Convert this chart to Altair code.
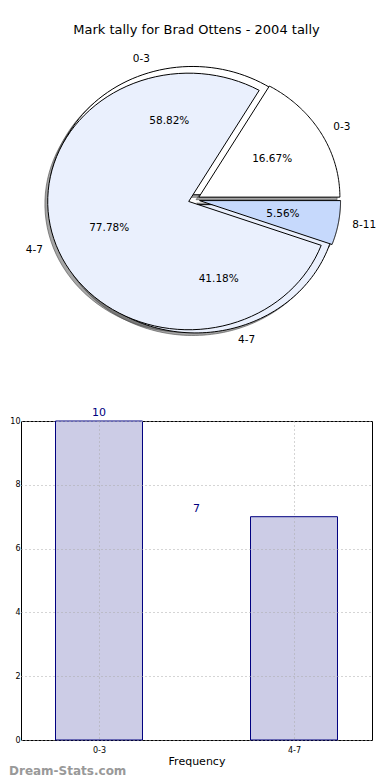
import json
import altair as alt
import pandas as pd

# ---------------- data ----------------
pie1_labels = ["0-3", "4-7"]
pie1_values = [10, 7]
pie1_colors = ["#ffffff", "#eaf0fd"]

pie2_labels = ["0-3", "4-7", "8-11"]
pie2_values = [3, 14, 1]
pie2_colors = ["#ffffff", "#eaf0fd", "#c6d9fc"]

bar_labels = ["0-3", "4-7"]
bar_values = [10, 7]
bar_text_pos = [0, 0.5]

TITLE = "Mark tally for Brad Ottens - 2004 tally"
FONT = "DejaVu Sans"

EXPLODE = 0.04
N = 90

slices = pd.DataFrame({
    "pie": [1] * len(pie1_labels) + [2] * len(pie2_labels),
    "ord": list(range(len(pie1_labels))) + list(range(len(pie2_labels))),
    "label": pie1_labels + pie2_labels,
    "value": pie1_values + pie2_values,
    "col": pie1_colors + pie2_colors,
})

base = (
    alt.Chart(slices)
    .transform_joinaggregate(total="sum(value)", groupby=["pie"])
    .transform_window(cum="sum(value)", sort=[alt.SortField("ord")],
                      groupby=["pie"], frame=[None, 0])
    .transform_calculate(a0="2*PI*(datum.cum - datum.value)/datum.total")
    .transform_calculate(a1="2*PI*datum.cum/datum.total")
    .transform_calculate(mid="(datum.a0 + datum.a1)/2")
    .transform_calculate(pct="format(100*datum.value/datum.total, '.2f') + '%'")
    .transform_calculate(id="datum.pie + '-' + datum.ord")
    .transform_calculate(cx=f"{EXPLODE}*cos(datum.mid)")
    .transform_calculate(cy=f"{EXPLODE}*sin(datum.mid)")
)

XS = alt.Scale(domain=[-1.2270, 1.2624], nice=False, zero=False)
YS = alt.Scale(domain=[-1.3196, 1.1746], nice=False, zero=False)

wedges = (
    base.transform_calculate(steps=f"sequence(0, {N + 2})")
    .transform_flatten(["steps"])
    .transform_calculate(ang=f"datum.a0 + (datum.a1 - datum.a0)*(datum.steps - 1)/{N}")
    .transform_calculate(px="datum.cx + (datum.steps == 0 ? 0 : cos(datum.ang))")
    .transform_calculate(py="datum.cy + (datum.steps == 0 ? 0 : sin(datum.ang))")
)

shadow = (
    wedges.transform_calculate(sx="datum.px - 0.02")
    .transform_calculate(sy="datum.py - 0.02")
    .mark_line(interpolate="linear-closed", fill="#4d4d4d", fillOpacity=0.5,
               stroke="#4d4d4d", strokeOpacity=0.6, strokeWidth=1)
    .encode(x=alt.X("sx:Q", scale=XS, axis=None),
            y=alt.Y("sy:Q", scale=YS, axis=None),
            order="steps:Q", detail="id:N")
)


def pie_layer(p):
    return (
        wedges.transform_filter(f"datum.pie == {p}")
        .mark_line(interpolate="linear-closed", stroke="black", strokeWidth=1)
        .encode(x=alt.X("px:Q", scale=XS, axis=None),
                y=alt.Y("py:Q", scale=YS, axis=None),
                order="steps:Q", detail="id:N",
                fill=alt.Fill("col:N", scale=None))
    )


labels = (
    base.transform_calculate(lx="datum.cx + 1.1*cos(datum.mid)")
    .transform_calculate(ly="datum.cy + 1.1*sin(datum.mid)")
)
lab_left = labels.transform_filter("datum.lx > 0").mark_text(
    align="left", baseline="middle", fontSize=10.5, font=FONT, color="black"
).encode(x=alt.X("lx:Q", scale=XS, axis=None), y=alt.Y("ly:Q", scale=YS, axis=None), text="label:N")
lab_right = labels.transform_filter("datum.lx <= 0").mark_text(
    align="right", baseline="middle", fontSize=10.5, font=FONT, color="black"
).encode(x=alt.X("lx:Q", scale=XS, axis=None), y=alt.Y("ly:Q", scale=YS, axis=None), text="label:N")

pcts = (
    base.transform_calculate(tx="datum.cx + 0.6*cos(datum.mid)")
    .transform_calculate(ty="datum.cy + 0.6*sin(datum.mid)")
    .mark_text(align="center", baseline="middle", fontSize=10.5, font=FONT, color="black")
    .encode(x=alt.X("tx:Q", scale=XS, axis=None), y=alt.Y("ty:Q", scale=YS, axis=None), text="pct:N")
)

pie_chart = alt.layer(shadow, pie_layer(1), pie_layer(2), lab_left, lab_right, pcts).properties(
    width=351, height=320,
    title=alt.TitleParams(TITLE, fontSize=13, font=FONT, fontWeight="normal",
                          anchor="middle", offset=12, color="black"),
)

# ---------------- bar chart ----------------
bars_df = pd.DataFrame({
    "label": bar_labels,
    "value": bar_values,
    "pos": list(range(len(bar_labels))),
    "tpos": bar_text_pos,
})
HALF = 0.223
BXS = alt.Scale(domain=[-0.4, len(bar_labels) - 0.6], nice=False, zero=False)
BYS = alt.Scale(domain=[0, 10], nice=False)

x_axis = alt.Axis(values=list(range(len(bar_labels))),
                  labelExpr=f"{json.dumps(bar_labels)}[datum.value]",
                  title="Frequency", titleFontSize=11, titleFontWeight="normal",
                  titleFont=FONT, titleColor="black", titlePadding=1,
                  labelFontSize=8, labelFont=FONT, labelColor="black", labelPadding=6,
                  grid=True, gridDash=[1, 3], gridColor="#aaaaaa", gridWidth=1,
                  ticks=False, domain=False, zindex=1)
y_axis = alt.Axis(values=[0, 2, 4, 6, 8, 10], title=None,
                  labelFontSize=8, labelFont=FONT, labelColor="black", labelPadding=1,
                  grid=True, gridDash=[1, 3], gridColor="#aaaaaa", gridWidth=1,
                  ticks=False, domain=False, zindex=1)

bars = (
    alt.Chart(bars_df)
    .transform_calculate(x0=f"datum.pos - {HALF}")
    .transform_calculate(x1=f"datum.pos + {HALF}")
    .mark_bar(fill="#ccccE6", stroke="#000080", strokeWidth=1)
    .encode(x=alt.X("x0:Q", scale=BXS, axis=x_axis), x2="x1:Q",
            y=alt.Y("value:Q", scale=BYS, axis=y_axis), y2=alt.datum(0))
)
bar_text = (
    alt.Chart(bars_df)
    .mark_text(color="#000080", fontSize=11, font=FONT, baseline="bottom", dy=-3)
    .encode(x=alt.X("tpos:Q", scale=BXS), y=alt.Y("value:Q", scale=BYS), text="value:Q")
)
watermark = (
    alt.Chart(pd.DataFrame({"t": ["Dream-Stats.com"]}))
    .mark_text(align="left", baseline="middle", fontSize=12, fontWeight="bold",
               font=FONT, color="#999999")
    .encode(text="t:N", x=alt.value(-12), y=alt.value(350))
)

bar_chart = alt.layer(bars, bar_text, watermark).properties(
    width=351, height=319,
    view=alt.ViewBackground(stroke="black", strokeWidth=1),
)

chart = (
    alt.vconcat(pie_chart, bar_chart, spacing=36)
    .properties(padding={"left": 0, "top": 15, "right": 0, "bottom": 0})
    .configure(font=FONT)
    .configure_view(stroke="transparent")
)

chart.save("out.html", embed_options={"renderer": "svg", "actions": False})
